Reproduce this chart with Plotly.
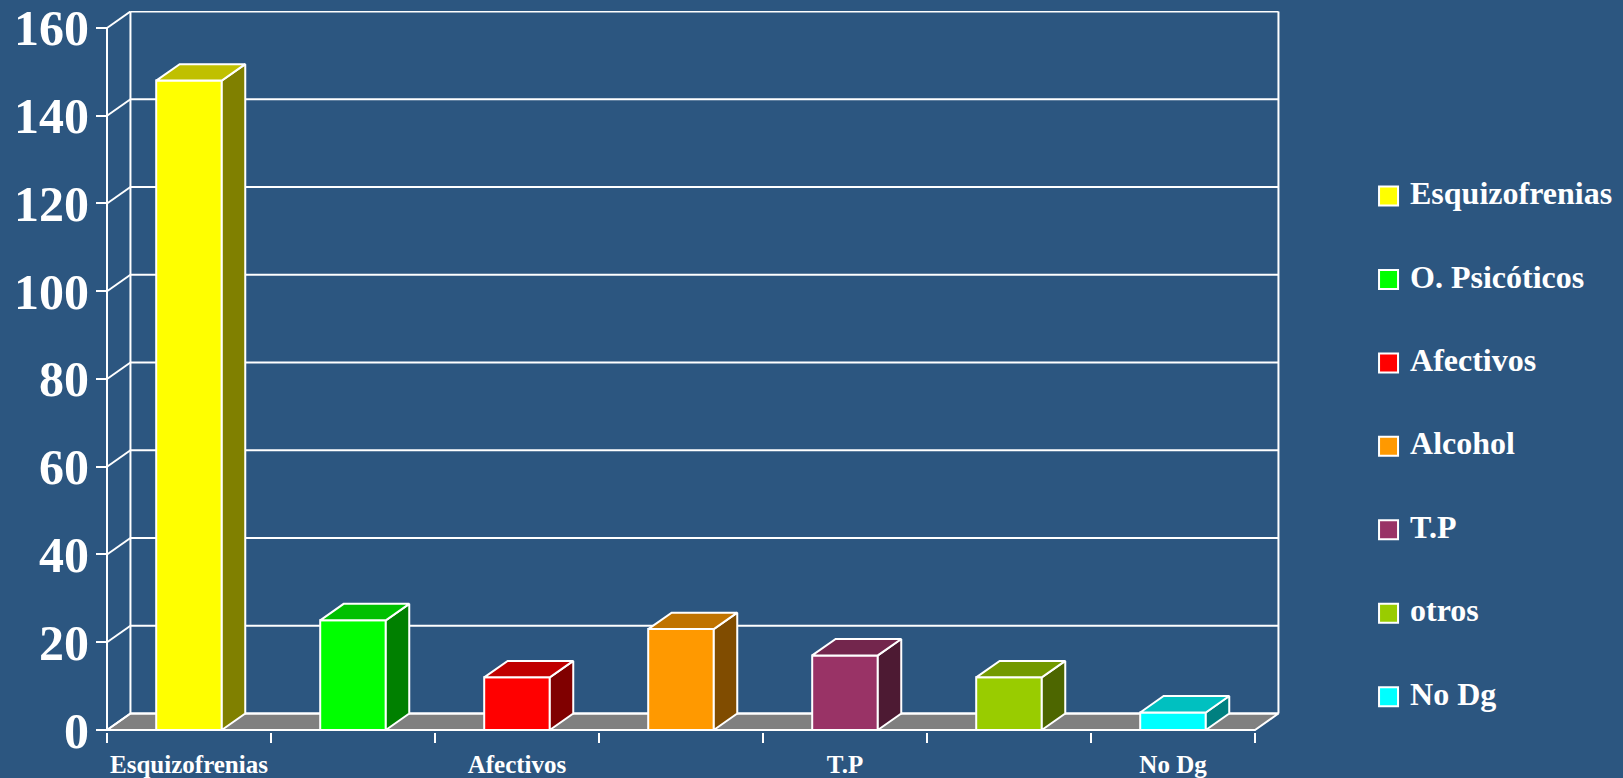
import plotly.graph_objects as go

# ---- data ----
categories = ["Esquizofrenias", "O. Psicóticos", "Afectivos", "Alcohol", "T.P", "otros", "No Dg"]
values = [148, 25, 12, 23, 17, 12, 4]
front_colors = ["#FFFF00", "#00FF00", "#FF0000", "#FF9900", "#993366", "#99CC00", "#00FFFF"]
side_colors = ["#808000", "#008000", "#800000", "#804C00", "#4D1A33", "#4D6600", "#008080"]
top_colors = ["#C0C000", "#00C000", "#C00000", "#C07300", "#73264D", "#739900", "#00C0C0"]
y_ticks = [0, 20, 40, 60, 80, 100, 120, 140, 160]
x_label_idx = [0, 2, 4, 6]
x_label_text = ["Esquizofrenias", "Afectivos", "T.P", "No Dg"]

# ---- style ----
BG = "#2C5680"
FONT = "Liberation Serif, Times New Roman, serif"
DX = 0.143   # depth offset in category units
DY = 3.75    # depth offset in value units
W = 0.40     # bar width
n = len(categories)
x_lo, x_hi = -0.5, n - 0.5
ymax = y_ticks[-1]

fig = go.Figure()


def poly(xs, ys, fill, lw=2):
    fig.add_trace(go.Scatter(
        x=xs + [xs[0]], y=ys + [ys[0]], mode="lines", fill="toself",
        fillcolor=fill, line=dict(color="white", width=lw),
        hoverinfo="skip", showlegend=False))


def lines(xs, ys, lw=2):
    fig.add_trace(go.Scatter(
        x=xs, y=ys, mode="lines", line=dict(color="white", width=lw),
        hoverinfo="skip", showlegend=False, connectgaps=False))


# floor
poly([x_lo, x_hi, x_hi + DX, x_lo + DX], [0, 0, DY, DY], "#808080")

# back wall grid, connectors, axis lines
gx, gy = [], []
for v in y_ticks:
    gx += [x_lo + DX, x_hi + DX, None, x_lo, x_lo + DX, None]
    gy += [v + DY, v + DY, None, v, v + DY, None]
gx += [x_lo + DX, x_lo + DX, None, x_hi + DX, x_hi + DX, None, x_lo, x_lo, None]
gy += [DY, ymax + DY, None, DY, ymax + DY, None, 0, ymax, None]
lines(gx, gy)

# 3D bars
for i, v in enumerate(values):
    l, r = i - W / 2, i + W / 2
    poly([l, r, r, l], [0, 0, v, v], front_colors[i])
    poly([r, r + DX, r + DX, r], [0, DY, v + DY, v], side_colors[i])
    poly([l, r, r + DX, l + DX], [v, v, v + DY, v + DY], top_colors[i])

# legend (manual)
fig.add_trace(go.Scatter(
    x=[0] * n, y=list(range(n)), mode="markers",
    marker=dict(symbol="square", size=19, color=front_colors,
                line=dict(color="white", width=2)),
    xaxis="x2", yaxis="y2", hoverinfo="skip", showlegend=False))
fig.add_trace(go.Scatter(
    x=[21.5] * n, y=list(range(n)), mode="text", text=categories,
    textposition="middle right",
    textfont=dict(family=FONT, size=32, color="white", weight="bold"),
    xaxis="x2", yaxis="y2", hoverinfo="skip", showlegend=False))

# ---- layout ----
ML, MT, MB = 96, 11, 44
plot_w = 1623 - ML
px_per_cat = 164.0
px_per_val = 4.4
x0 = x_lo - 11 / px_per_cat
x1 = x_hi + DX + 0.02
dom_end = (x1 - x0) * px_per_cat / plot_w
plot_h = 778 - MT - MB
y0 = -2 / px_per_val
y1 = y0 + plot_h / px_per_val

fig.update_layout(
    width=1623, height=778,
    margin=dict(l=ML, r=0, t=MT, b=MB),
    paper_bgcolor=BG, plot_bgcolor=BG,
    showlegend=False,
    xaxis=dict(
        domain=[0, dom_end], range=[x0, x1],
        tickmode="array", tickvals=x_label_idx, ticktext=x_label_text,
        ticks="", showgrid=False, zeroline=False, showline=False,
        tickfont=dict(family=FONT, size=25, color="white", weight="bold"),
        ticklabelstandoff=15,
        minor=dict(tickvals=[k - 0.5 for k in range(n + 1)], ticks="outside",
                   ticklen=10, tickwidth=2, tickcolor="white", showgrid=False),
    ),
    yaxis=dict(
        range=[y0, y1], tickmode="array", tickvals=y_ticks,
        ticks="inside", ticklen=11, tickwidth=2, tickcolor="white",
        showgrid=False, zeroline=False, showline=False,
        tickfont=dict(family=FONT, size=50, color="white", weight="bold"),
        ticklabelstandoff=6,
    ),
    xaxis2=dict(domain=[0.78, 1], range=[-101.5, 234.5], anchor="y2",
                visible=False, fixedrange=True),
    yaxis2=dict(domain=[0, 1], range=[6.424, -2.219], anchor="x2",
                visible=False, fixedrange=True),
)

fig.write_html("out.html", config={"displayModeBar": False},
               post_script="document.body.style.margin='0';document.body.style.background='" + BG + "';")
